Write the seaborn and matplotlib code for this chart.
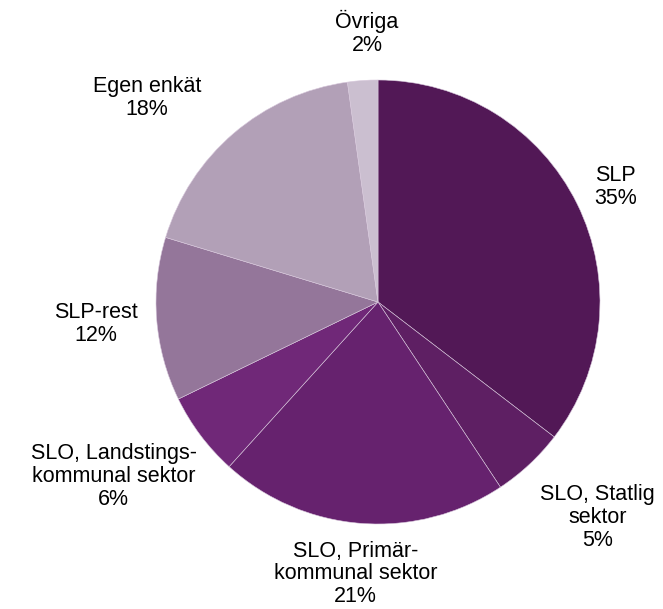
import matplotlib
matplotlib.use("Agg")
import matplotlib.pyplot as plt
import seaborn as sns

sns.set_theme(style="white")
plt.rcParams['font.family'] = ['Liberation Sans', 'DejaVu Sans']

# share of sources, clockwise from 12 o'clock
categories = ["SLP", "SLO, Statlig\nsektor", "SLO, Primär-\nkommunal sektor",
              "SLO, Landstings-\nkommunal sektor", "SLP-rest", "Egen enkät", "Övriga"]
shares = [35.4, 5.3, 21.0, 6.1, 11.9, 18.1, 2.2]
colors = ["#521856", "#5e1f63", "#66226e", "#702878", "#94769a", "#b2a0b7", "#cbbfd0"]

# label centres (data coords, radius = 1)
label_pos = [(1.07, 0.52), (0.99, -0.97), (-0.10, -1.225), (-1.19, -0.785),
             (-1.27, -0.10), (-1.04, 0.92), (-0.05, 1.21)]

fig = plt.figure(figsize=(6.63, 6.09), dpi=100)
ax = fig.add_axes([156 / 663, 85 / 609, 444 / 663, 444 / 609])

wedges, _ = ax.pie(shares, colors=colors, startangle=90, counterclock=False,
                   wedgeprops=dict(linewidth=0.4, edgecolor="#d8c8dc"))
ax.set_xlim(-1, 1)
ax.set_ylim(-1, 1)
ax.set_aspect("equal")

for cat, val, (x, y) in zip(categories, shares, label_pos):
    ax.text(x, y, f"{cat}\n{round(val):.0f}%", ha="center", va="center",
            multialignment="center", fontsize=15.5, color="black",
            linespacing=1.12, clip_on=False)

fig.savefig("out.png", dpi=100)
